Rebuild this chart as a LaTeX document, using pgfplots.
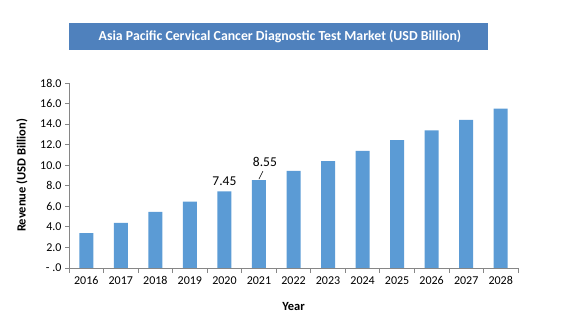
\documentclass[border=0pt]{standalone}
\usepackage{pgfplots}
\pgfplotsset{compat=1.18}
\usepackage{fontspec}
\setmainfont{Carlito}
\definecolor{barc}{HTML}{5B9BD5}
\definecolor{ttl}{HTML}{4F81BD}
\definecolor{axg}{HTML}{868686}
\begin{document}
\begin{tikzpicture}[x=1pt,y=1pt]
\path (0,0) rectangle (565,326);
\fill[ttl] (69,276) rectangle (488,303);
\node[white,font=\bfseries\fontsize{13.8}{15}\selectfont] at (280,289.5) {Asia Pacific Cervical Cancer Diagnostic Test Market (USD Billion)};
\begin{axis}[
  at={(69pt,58pt)}, anchor=south west,
  scale only axis, width=449pt, height=185pt,
  ymin=0, ymax=18, xmin=-0.5, xmax=12.5,
  ybar, bar width=14pt,
  axis x line*=bottom, axis y line*=left,
  axis line style={axg, line width=0.8pt},
  ytick={0,2,...,18},
  yticklabels={- .0,2.0,4.0,6.0,8.0,10.0,12.0,14.0,16.0,18.0},
  xtick={0,...,12},
  xticklabels={2016,2017,2018,2019,2020,2021,2022,2023,2024,2025,2026,2027,2028},
  major x tick style={draw=none},
  minor xtick={-0.5,0.5,...,12.5},
  tick align=outside,
  major tick length=4pt, minor tick length=5pt,
  tick style={axg, line width=0.8pt},
  ticklabel style={font=\fontsize{12}{13}\selectfont},
  xticklabel style={yshift=-1pt},
  xlabel={\textbf{Year}},
  ylabel={\textbf{Revenue (USD Billion)}},
  label style={font=\fontsize{12.5}{14}\selectfont},
  xlabel style={at={(axis description cs:0.5,0)}, anchor=center, yshift=-38pt},
  ylabel style={at={(axis description cs:0,0.5)}, anchor=center, yshift=47pt},
  clip=false,
]
\addplot[fill=barc, draw=none] coordinates {
(0,3.4) (1,4.4) (2,5.45) (3,6.45) (4,7.45) (5,8.55) (6,9.45) (7,10.4) (8,11.4) (9,12.45) (10,13.4) (11,14.4) (12,15.5)
};
\node[anchor=south, inner sep=0pt, font=\fontsize{13.5}{15}\selectfont] at ([yshift=6pt]axis cs:4,7.45) {7.45};
\draw[black, line width=0.5pt] ([yshift=1pt]axis cs:5,8.55) -- ++(4pt,8pt);
\node[anchor=south, inner sep=0pt, font=\fontsize{13.5}{15}\selectfont] at ([xshift=6pt,yshift=13pt]axis cs:5,8.55) {8.55};
\end{axis}
\end{tikzpicture}
\end{document}
